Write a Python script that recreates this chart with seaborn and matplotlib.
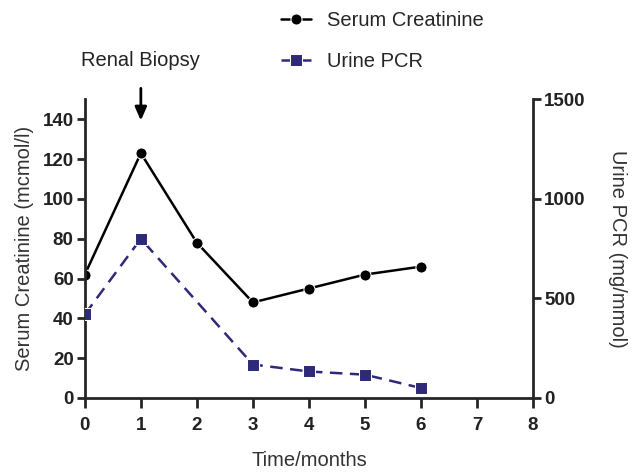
import matplotlib
matplotlib.use("Agg")
import matplotlib.pyplot as plt
import seaborn as sns
import pandas as pd

sns.set_style("ticks")
plt.rcParams['font.family'] = ['Liberation Sans', 'DejaVu Sans']

months_sc = [0, 1, 2, 3, 4, 5, 6]
serum_creatinine = [62, 123, 78, 48, 55, 62, 66]
months_pcr = [0, 1, 3, 4, 5, 6]
urine_pcr = [420, 800, 168, 133, 117, 50]

sc = pd.DataFrame({"month": months_sc, "value": serum_creatinine})
pcr = pd.DataFrame({"month": months_pcr, "value": urine_pcr})

fig = plt.figure(figsize=(6.33, 4.76), dpi=100)
ax = fig.add_axes([0.134, 0.164, 0.708, 0.627])
ax2 = ax.twinx()

pcr_color = "#2f2a78"
sns.lineplot(data=sc, x="month", y="value", ax=ax, color="black", marker="o",
             markersize=8, linewidth=1.8, label="Serum Creatinine", legend=False)
sns.lineplot(data=pcr, x="month", y="value", ax=ax2, color=pcr_color, marker="s",
             markersize=8, linewidth=1.8, linestyle=(0, (5, 3)),
             label="Urine PCR", legend=False)

ax.set_xlim(0, 8)
ax.set_ylim(0, 150)
ax2.set_ylim(0, 1500)
ax.set_xticks(range(0, 9))
ax.set_yticks(range(0, 141, 20))
ax2.set_yticks([0, 500, 1000, 1500])

for a in (ax, ax2):
    a.spines["top"].set_visible(False)
    for s in a.spines.values():
        s.set_linewidth(2)
    a.tick_params(width=2, length=6, labelsize=13.5, pad=2)
    for lbl in a.get_xticklabels() + a.get_yticklabels():
        lbl.set_fontweight("bold")
        lbl.set_color("#222222")
ax.tick_params(axis="x", length=7, pad=7)
ax.spines["right"].set_visible(False)
ax2.spines["left"].set_visible(False)
ax2.spines["bottom"].set_visible(False)

ax.set_xlabel("Time/months", fontsize=14.5, color="#333333", labelpad=12)
ax.set_ylabel("Serum Creatinine (mcmol/l)", fontsize=14.5, color="#333333", labelpad=6)
ax2.set_ylabel("Urine PCR (mg/mmol)", fontsize=14.5, color="#333333",
               rotation=270, labelpad=30)

ax.annotate("", xy=(1, 138), xytext=(1, 157), xycoords="data",
            arrowprops=dict(arrowstyle="-|>,head_width=0.35,head_length=0.8",
                            color="black", lw=2), annotation_clip=False)
ax.text(1, 165, "Renal Biopsy", ha="center", va="bottom", fontsize=14.5,
        color="#222222")

h1, l1 = ax.get_legend_handles_labels()
h2, l2 = ax2.get_legend_handles_labels()
fig.legend(h1 + h2, l1 + l2, loc="upper left", bbox_to_anchor=(0.415, 1.015),
           frameon=False, fontsize=14.5, handlelength=1.5, labelspacing=1.1)

fig.savefig("out.png", dpi=100)
